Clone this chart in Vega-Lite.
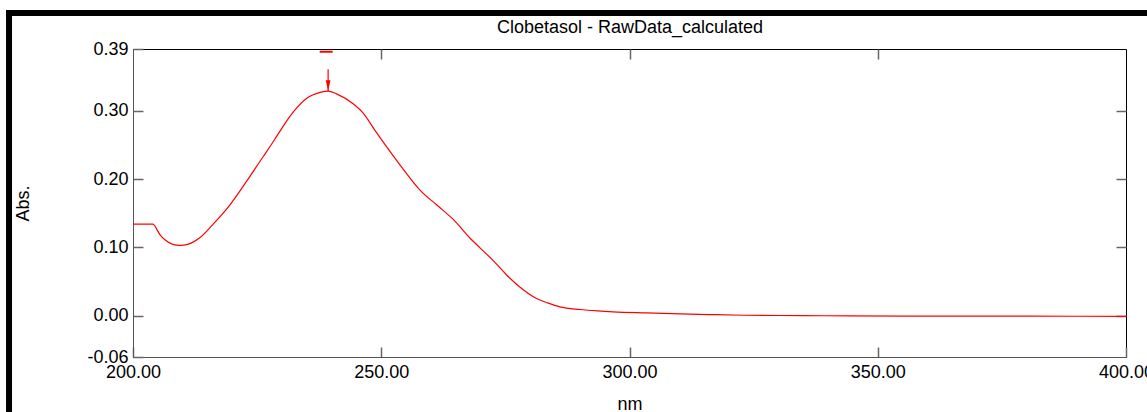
{
  "$schema": "https://vega.github.io/schema/vega-lite/v6.json",
  "width": 993,
  "height": 308,
  "padding": {"left": 133, "top": 49, "right": 21, "bottom": 55},
  "autosize": {"type": "none"},
  "background": "white",
  "config": {
    "font": "Liberation Sans",
    "view": {"stroke": "black", "strokeWidth": 1},
    "axis": {"grid": false, "labelFont": "Liberation Sans", "titleFont": "Liberation Sans", "labelColor": "black", "titleColor": "black", "titleFontWeight": "normal", "labelFontSize": 18, "titleFontSize": 18, "tickColor": "#666666", "domainColor": "#555555", "tickSize": -10, "tickWidth": 1.5}
  },
  "datasets": {
    "spectrum": [
      {"nm": 200, "abs": 0.134}, {"nm": 202, "abs": 0.134}, {"nm": 204, "abs": 0.134},
      {"nm": 205, "abs": 0.124}, {"nm": 205.5, "abs": 0.118}, {"nm": 206.5, "abs": 0.111},
      {"nm": 208, "abs": 0.1045}, {"nm": 209.5, "abs": 0.103}, {"nm": 211, "abs": 0.1045},
      {"nm": 213.5, "abs": 0.1146}, {"nm": 216, "abs": 0.133}, {"nm": 219.5, "abs": 0.162},
      {"nm": 223, "abs": 0.198}, {"nm": 226.2, "abs": 0.2326}, {"nm": 227.6, "abs": 0.2475},
      {"nm": 228.9, "abs": 0.262}, {"nm": 230.5, "abs": 0.28}, {"nm": 232.3, "abs": 0.298},
      {"nm": 235, "abs": 0.318}, {"nm": 237.7, "abs": 0.3267}, {"nm": 239.3, "abs": 0.3286},
      {"nm": 241, "abs": 0.3245}, {"nm": 244.4, "abs": 0.3096}, {"nm": 246.4, "abs": 0.296},
      {"nm": 248.7, "abs": 0.2716}, {"nm": 251.1, "abs": 0.247}, {"nm": 253.8, "abs": 0.2204},
      {"nm": 257.8, "abs": 0.1838}, {"nm": 261.2, "abs": 0.162}, {"nm": 264.5, "abs": 0.141},
      {"nm": 267.9, "abs": 0.1135}, {"nm": 269.9, "abs": 0.0995}, {"nm": 272.6, "abs": 0.0805},
      {"nm": 275.3, "abs": 0.0595}, {"nm": 277.9, "abs": 0.0424}, {"nm": 281.3, "abs": 0.0254},
      {"nm": 283.5, "abs": 0.019}, {"nm": 286, "abs": 0.0132}, {"nm": 290, "abs": 0.0094},
      {"nm": 293.6, "abs": 0.0073}, {"nm": 296.7, "abs": 0.006}, {"nm": 303.4, "abs": 0.0044},
      {"nm": 310.2, "abs": 0.003}, {"nm": 316, "abs": 0.002}, {"nm": 323, "abs": 0.001},
      {"nm": 335, "abs": 0.0005}, {"nm": 344.4, "abs": 0.0}, {"nm": 360, "abs": -0.0003},
      {"nm": 380, "abs": -0.0004}, {"nm": 400, "abs": -0.0005}
    ],
    "arrow": [{"nm": 239.3, "top": 0.3604, "tip": 0.3286, "head": 0.3365}],
    "mark": [{"nm": 237.6, "nm2": 240.2, "abs": 0.386}],
    "frame": [
      {"x1": 175.03, "x2": 175.03, "y1": 0.4471, "y2": -0.16, "w": 6},
      {"x1": 174.42, "x2": 406, "y1": 0.4427, "y2": 0.4427, "w": 6}
    ]
  },
  "resolve": {"axis": {"x": "independent", "y": "independent"}},
  "layer": [
    {
      "data": {"name": "spectrum"},
      "mark": {"type": "line", "color": "#ff0000", "strokeWidth": 1.2, "clip": true, "interpolate": "monotone"},
      "encoding": {
        "x": {"field": "nm", "type": "quantitative", "scale": {"domain": [200, 400], "nice": false, "zero": false},
          "axis": {"orient": "bottom", "values": [200, 250, 300, 350, 400], "format": ".2f", "labelPadding": 16, "title": "nm", "titlePadding": 14, "labelFlush": false}},
        "y": {"field": "abs", "type": "quantitative", "scale": {"domain": [-0.06, 0.39], "nice": false, "zero": false},
          "axis": {"orient": "left", "values": [-0.06, 0, 0.1, 0.2, 0.3, 0.39], "labelExpr": "datum.value < 0 ? '-' + format(-datum.value, '.2f') : format(datum.value, '.2f')", "labelPadding": 15, "title": "Abs.", "titlePadding": 54, "labelFlush": false}}
      }
    },
    {
      "data": {"name": "arrow"},
      "mark": {"type": "rule", "color": "#ff0000", "strokeWidth": 1.2},
      "encoding": {
        "x": {"field": "nm", "type": "quantitative",
          "axis": {"orient": "top", "values": [250, 300, 350], "labels": false, "domain": false, "title": "Clobetasol - RawData_calculated", "titlePadding": 12, "titleFontSize": 18}},
        "y": {"field": "top", "type": "quantitative",
          "axis": {"orient": "right", "values": [0, 0.1, 0.2, 0.3], "labels": false, "domain": false, "title": null}},
        "y2": {"field": "tip"}
      }
    },
    {
      "data": {"name": "arrow"},
      "mark": {"type": "point", "shape": "M-0.45,-1L0.45,-1L0,1Z", "filled": true, "color": "#ff0000", "size": 110, "opacity": 1},
      "encoding": {
        "x": {"field": "nm", "type": "quantitative", "axis": null},
        "y": {"field": "head", "type": "quantitative", "axis": null}
      }
    },
    {
      "data": {"name": "mark"},
      "mark": {"type": "rule", "color": "#ff0000", "strokeWidth": 2},
      "encoding": {
        "x": {"field": "nm", "type": "quantitative", "axis": null},
        "x2": {"field": "nm2"},
        "y": {"field": "abs", "type": "quantitative", "axis": null}
      }
    },
    {
      "data": {"name": "frame"},
      "mark": {"type": "rule", "color": "black", "strokeWidth": 6, "clip": false},
      "encoding": {
        "x": {"field": "x1", "type": "quantitative", "axis": null},
        "x2": {"field": "x2"},
        "y": {"field": "y1", "type": "quantitative", "axis": null},
        "y2": {"field": "y2"}
      }
    }
  ]
}
